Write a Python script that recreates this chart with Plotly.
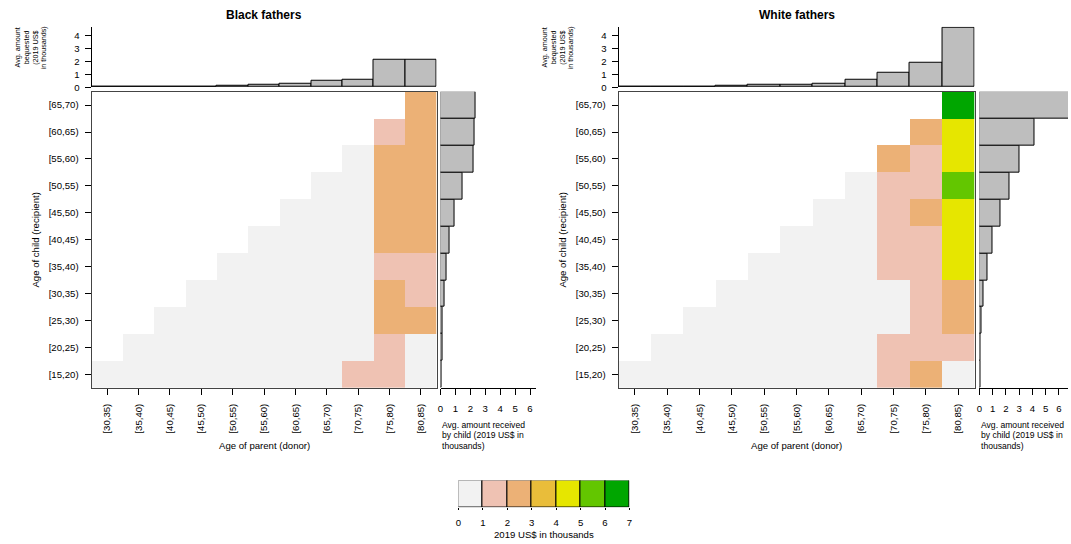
import plotly.graph_objects as go

W, H = 1071, 544
FONT = "Liberation Sans, Arial, sans-serif"

# Age groups
parent_ages = ["[30,35)", "[35,40)", "[40,45)", "[45,50)", "[50,55)", "[55,60)",
               "[60,65)", "[65,70)", "[70,75)", "[75,80)", "[80,85)"]
child_ages = ["[15,20)", "[20,25)", "[25,30)", "[30,35)", "[35,40)", "[40,45)",
              "[45,50)", "[50,55)", "[55,60)", "[60,65)", "[65,70)"]

# Colour bins (2019 US$ in thousands)
bin_edges = [0, 1, 2, 3, 4, 5, 6, 7]
bin_colors = ["#F2F2F2", "#EFC2B3", "#ECB176", "#E9BD3A", "#E6E600", "#63C600", "#00A600"]

N = None
# Average transfer by child age (rows, youngest first) and parent age (columns)
black_cells = [
    [0.02, 0.03, 0.05, 0.08, 0.12, 0.18, 0.30, 0.55, 1.20, 1.40, 0.80],
    [N, 0.03, 0.05, 0.08, 0.12, 0.20, 0.30, 0.50, 0.80, 1.30, 0.90],
    [N, N, 0.05, 0.09, 0.13, 0.20, 0.32, 0.50, 0.85, 2.30, 2.40],
    [N, N, N, 0.09, 0.14, 0.21, 0.33, 0.52, 0.90, 2.20, 1.80],
    [N, N, N, N, 0.15, 0.22, 0.35, 0.55, 0.90, 1.60, 1.70],
    [N, N, N, N, N, 0.23, 0.36, 0.56, 0.95, 2.40, 2.60],
    [N, N, N, N, N, N, 0.38, 0.60, 0.97, 2.50, 2.70],
    [N, N, N, N, N, N, N, 0.62, 0.98, 2.60, 2.80],
    [N, N, N, N, N, N, N, N, 0.99, 2.60, 2.90],
    [N, N, N, N, N, N, N, N, N, 1.70, 2.80],
    [N, N, N, N, N, N, N, N, N, N, 2.90],
]
white_cells = [
    [0.02, 0.03, 0.05, 0.08, 0.12, 0.18, 0.30, 0.60, 1.30, 2.30, 0.70],
    [N, 0.03, 0.05, 0.08, 0.13, 0.20, 0.32, 0.65, 1.20, 1.40, 1.60],
    [N, N, 0.06, 0.09, 0.14, 0.21, 0.35, 0.70, 0.90, 1.50, 2.60],
    [N, N, N, 0.10, 0.15, 0.22, 0.38, 0.75, 0.95, 1.60, 2.80],
    [N, N, N, N, 0.16, 0.24, 0.40, 0.80, 1.40, 1.70, 4.30],
    [N, N, N, N, N, 0.25, 0.42, 0.85, 1.50, 1.80, 4.50],
    [N, N, N, N, N, N, 0.45, 0.90, 1.60, 2.40, 4.60],
    [N, N, N, N, N, N, N, 0.92, 1.70, 1.90, 5.40],
    [N, N, N, N, N, N, N, N, 2.20, 1.80, 4.70],
    [N, N, N, N, N, N, N, N, N, 2.60, 4.80],
    [N, N, N, N, N, N, N, N, N, N, 6.50],
]

# Marginal averages
black_bequest = [0.01, 0.02, 0.03, 0.05, 0.08, 0.15, 0.23, 0.46, 0.58, 2.10, 2.12]
white_bequest = [0.01, 0.03, 0.05, 0.08, 0.15, 0.17, 0.30, 0.56, 1.11, 1.92, 4.61]
black_received = [0.04, 0.11, 0.16, 0.24, 0.38, 0.62, 0.96, 1.49, 2.20, 2.29, 2.33]
white_received = [0.05, 0.10, 0.18, 0.30, 0.58, 1.00, 1.55, 2.25, 3.00, 4.12, 7.00]

panel_titles = ["Black fathers", "White fathers"]


def fx(px):
    return px / W


def fy(py):
    return 1 - py / H


colorscale = []
for i, c in enumerate(bin_colors):
    colorscale.append([bin_edges[i] / bin_edges[-1], c])
    colorscale.append([bin_edges[i + 1] / bin_edges[-1], c])

# panel geometry in pixels
panels = [
    dict(cells=black_cells, beq=black_bequest, rec=black_received,
         hm_x=(89, 436), rh_x=(440, 536), rh_max=6.4),
    dict(cells=white_cells, beq=white_bequest, rec=white_received,
         hm_x=(619, 977), rh_x=(982, 1071), rh_max=6.69),
]
HM_Y = (92.5, 391.5)
TOP_Y = (27, 88)
TOP_MAX = 4.66

fig = go.Figure()
layout = dict(
    width=W, height=H, margin=dict(l=0, r=0, t=0, b=0),
    paper_bgcolor="white", plot_bgcolor="white",
    showlegend=False, bargap=0,
    font=dict(family=FONT, size=9.6, color="black"),
)
annotations = []

tickfont = dict(family=FONT, size=9.6, color="black")

for p, pn in enumerate(panels):
    k = 3 * p
    hm, top, rh = k + 1, k + 2, k + 3
    x0, x1 = pn["hm_x"]

    fig.add_trace(go.Heatmap(
        z=pn["cells"], x=parent_ages, y=child_ages,
        zmin=bin_edges[0], zmax=bin_edges[-1], colorscale=colorscale,
        showscale=False, xaxis=f"x{hm}", yaxis=f"y{hm}", hoverongaps=False,
    ))
    fig.add_trace(go.Bar(
        x=parent_ages, y=pn["beq"], width=1,
        marker=dict(color="#BEBEBE", line=dict(color="black", width=1)),
        xaxis=f"x{top}", yaxis=f"y{top}",
    ))
    fig.add_trace(go.Bar(
        y=child_ages, x=pn["rec"], width=1, orientation="h",
        marker=dict(color="#BEBEBE", line=dict(color="black", width=1)),
        xaxis=f"x{rh}", yaxis=f"y{rh}",
    ))

    # heatmap axes
    layout[f"xaxis{hm}"] = dict(
        domain=[fx(x0), fx(x1)], anchor=f"y{hm}", type="category",
        categoryorder="array", categoryarray=parent_ages, range=[-0.5, 10.5],
        showline=True, linecolor="#444", linewidth=1, mirror=True,
        ticks="outside", ticklen=6, tickcolor="black", tickangle=-90,
        ticklabelstandoff=5,
        tickfont=tickfont, showgrid=False, zeroline=False, fixedrange=True,
    )
    layout[f"yaxis{hm}"] = dict(
        domain=[fy(HM_Y[1]), fy(HM_Y[0])], anchor=f"x{hm}", type="category",
        categoryorder="array", categoryarray=child_ages, range=[-0.5, 10.5],
        showline=True, linecolor="#444", linewidth=1, mirror=True,
        ticks="outside", ticklen=6, tickcolor="black", ticklabelstandoff=4,
        tickfont=tickfont, showgrid=False, zeroline=False, fixedrange=True,
    )
    # top histogram axes
    layout[f"xaxis{top}"] = dict(
        domain=[fx(x0), fx(x1)], anchor=f"y{top}", type="category",
        categoryorder="array", categoryarray=parent_ages, range=[-0.5, 10.5],
        showline=False, showticklabels=False, ticks="", showgrid=False,
        zeroline=False, fixedrange=True,
    )
    layout[f"yaxis{top}"] = dict(
        domain=[fy(TOP_Y[1]), fy(TOP_Y[0])], anchor=f"x{top}",
        range=[0, TOP_MAX], tickvals=[0, 1, 2, 3, 4],
        showline=True, linecolor="black", linewidth=1,
        ticks="outside", ticklen=6, tickcolor="black", ticklabelstandoff=3,
        tickfont=tickfont, showgrid=False, zeroline=False, fixedrange=True,
    )
    # right histogram axes
    r0, r1 = pn["rh_x"]
    layout[f"xaxis{rh}"] = dict(
        domain=[fx(r0), fx(r1)], anchor=f"y{rh}",
        range=[0, pn["rh_max"]], tickvals=[0, 1, 2, 3, 4, 5, 6],
        showline=True, linecolor="black", linewidth=1,
        ticks="outside", ticklen=6, tickcolor="black", ticklabelstandoff=6,
        tickfont=tickfont, showgrid=False, zeroline=False, fixedrange=True,
    )
    layout[f"yaxis{rh}"] = dict(
        domain=[fy(HM_Y[1]), fy(HM_Y[0])], anchor=f"x{rh}", type="category",
        categoryorder="array", categoryarray=child_ages, range=[-0.5, 10.5],
        showline=False, showticklabels=False, ticks="", showgrid=False,
        zeroline=False, fixedrange=True,
    )

    cx = (x0 + x1) / 2
    annotations.append(dict(
        text=f"<b>{panel_titles[p]}</b>", x=fx(cx), y=fy(15.5),
        xref="paper", yref="paper", showarrow=False,
        font=dict(family=FONT, size=12, color="black"),
        xanchor="center", yanchor="middle",
    ))
    annotations.append(dict(
        text="Age of parent (donor)", x=fx(cx), y=fy(450),
        xref="paper", yref="paper", showarrow=False,
        font=dict(family=FONT, size=9.6, color="black"),
        xanchor="center", yanchor="middle",
    ))
    annotations.append(dict(
        text="Age of child (recipient)", x=fx(x0 - 56), y=fy(sum(HM_Y) / 2),
        xref="paper", yref="paper", showarrow=False, textangle=-90,
        font=dict(family=FONT, size=9.6, color="black"),
        xanchor="center", yanchor="middle",
    ))
    for i, line in enumerate(["Avg. amount", "bequested", "(2019 US$", "in thousands)"]):
        annotations.append(dict(
            text=line, x=fx(x0 - 74 + i * 8.7), y=fy(48),
            xref="paper", yref="paper", showarrow=False, textangle=-90,
            font=dict(family=FONT, size=7.2, color="black"),
            xanchor="center", yanchor="middle",
        ))
    for i, line in enumerate(["Avg. amount received", "by child (2019 US$ in", "thousands)"]):
        annotations.append(dict(
            text=line, x=fx(r0 - 1), y=fy(428.5 + i * 10.8),
            xref="paper", yref="paper", showarrow=False,
            font=dict(family=FONT, size=8.6, color="black"),
            xanchor="left", yanchor="middle",
        ))

# colour key
mids = [(bin_edges[i] + bin_edges[i + 1]) / 2 for i in range(len(bin_colors))]
fig.add_trace(go.Bar(
    x=mids, y=[1] * len(mids), width=1,
    marker=dict(color=bin_colors, line=dict(color="black", width=1)),
    xaxis="x7", yaxis="y7",
))
layout["xaxis7"] = dict(
    domain=[fx(458), fx(630)], anchor="y7", range=[bin_edges[0], bin_edges[-1]],
    tickvals=bin_edges, ticks="outside", ticklen=2, tickcolor="black",
    ticklabelstandoff=4,
    showline=False, tickfont=tickfont, showgrid=False, zeroline=False, fixedrange=True,
)
layout["yaxis7"] = dict(
    domain=[fy(512), fy(485)], anchor="x7", range=[0, 1],
    showticklabels=False, ticks="", showline=False, showgrid=False,
    zeroline=False, fixedrange=True,
)
annotations.append(dict(
    text="2019 US$ in thousands", x=fx(544), y=fy(539),
    xref="paper", yref="paper", showarrow=False,
    font=dict(family=FONT, size=9.6, color="black"),
    xanchor="center", yanchor="middle",
))

layout["annotations"] = annotations
fig.update_layout(**layout)
fig.write_html("out.html")
